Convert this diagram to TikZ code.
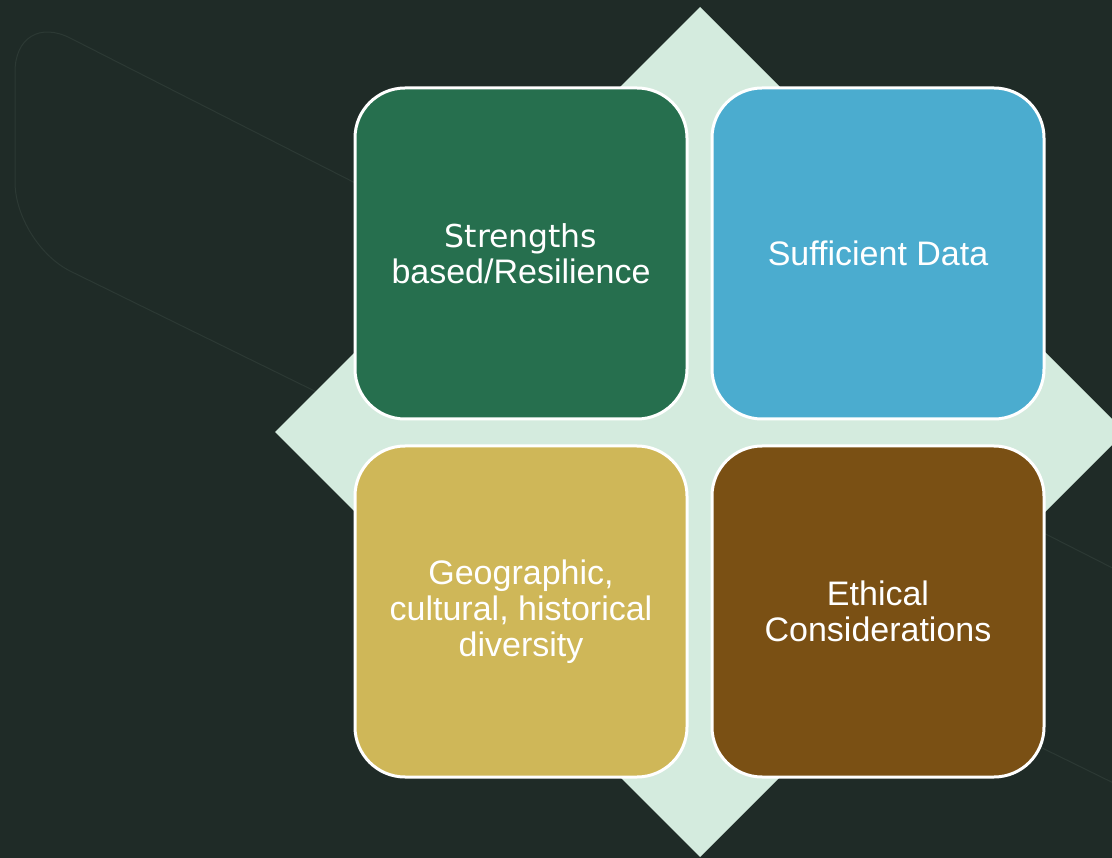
\documentclass[tikz,border=0pt]{standalone}
\usepackage{fontspec}
\setmainfont{Liberation Sans}
\newfontfamily\tahomalike{DejaVu Sans}
\usetikzlibrary{positioning}

\definecolor{slate}{HTML}{1F2B27}
\definecolor{slateline}{HTML}{2C3934}
\definecolor{mint}{HTML}{D4EBDE}
\definecolor{forest}{HTML}{266F4E}
\definecolor{sky}{HTML}{4BACCF}
\definecolor{mustard}{HTML}{CFB758}
\definecolor{umber}{HTML}{7A5014}

\begin{document}
\begin{tikzpicture}[x=1pt,y=-1pt,
    every node/.style={font=\fontsize{34}{36}\selectfont},
    tile/.style={draw=white,line width=3pt,rounded corners=50pt,
        minimum width=332pt,minimum height=331pt,text=white,align=center,inner sep=0pt},
    node distance=22pt and 22pt]
    % Background and the faint band behind everything
    \fill[slate] (0,0) rectangle (1112,858);
    \useasboundingbox (0,0) rectangle (1112,858);
    \begin{scope}
        \clip (0,0) rectangle (1112,858);
        \draw[slateline,line width=1pt,rounded corners=62pt]
            (1140,582) -- (15,10) -- (15,244) -- (1140,796);

        % Diamond under the tiles
        \fill[mint] (700,7) -- (1125,432) -- (700,857) -- (275,432) -- cycle;
    \end{scope}

    % The four tiles
    \node[tile,fill=forest] (strengths) at (521,253.5)
        {\tahomalike\fontsize{31.5}{34}\selectfont Strengths\\based/Resilience};
    \node[tile,fill=sky,right=of strengths] (data) {Sufficient Data};
    \node[tile,fill=mustard,below=24pt of strengths] (diversity)
        {Geographic,\\cultural, historical\\diversity};
    \node[tile,fill=umber,right=of diversity] (ethics) {Ethical\\Considerations};
\end{tikzpicture}
\end{document}
